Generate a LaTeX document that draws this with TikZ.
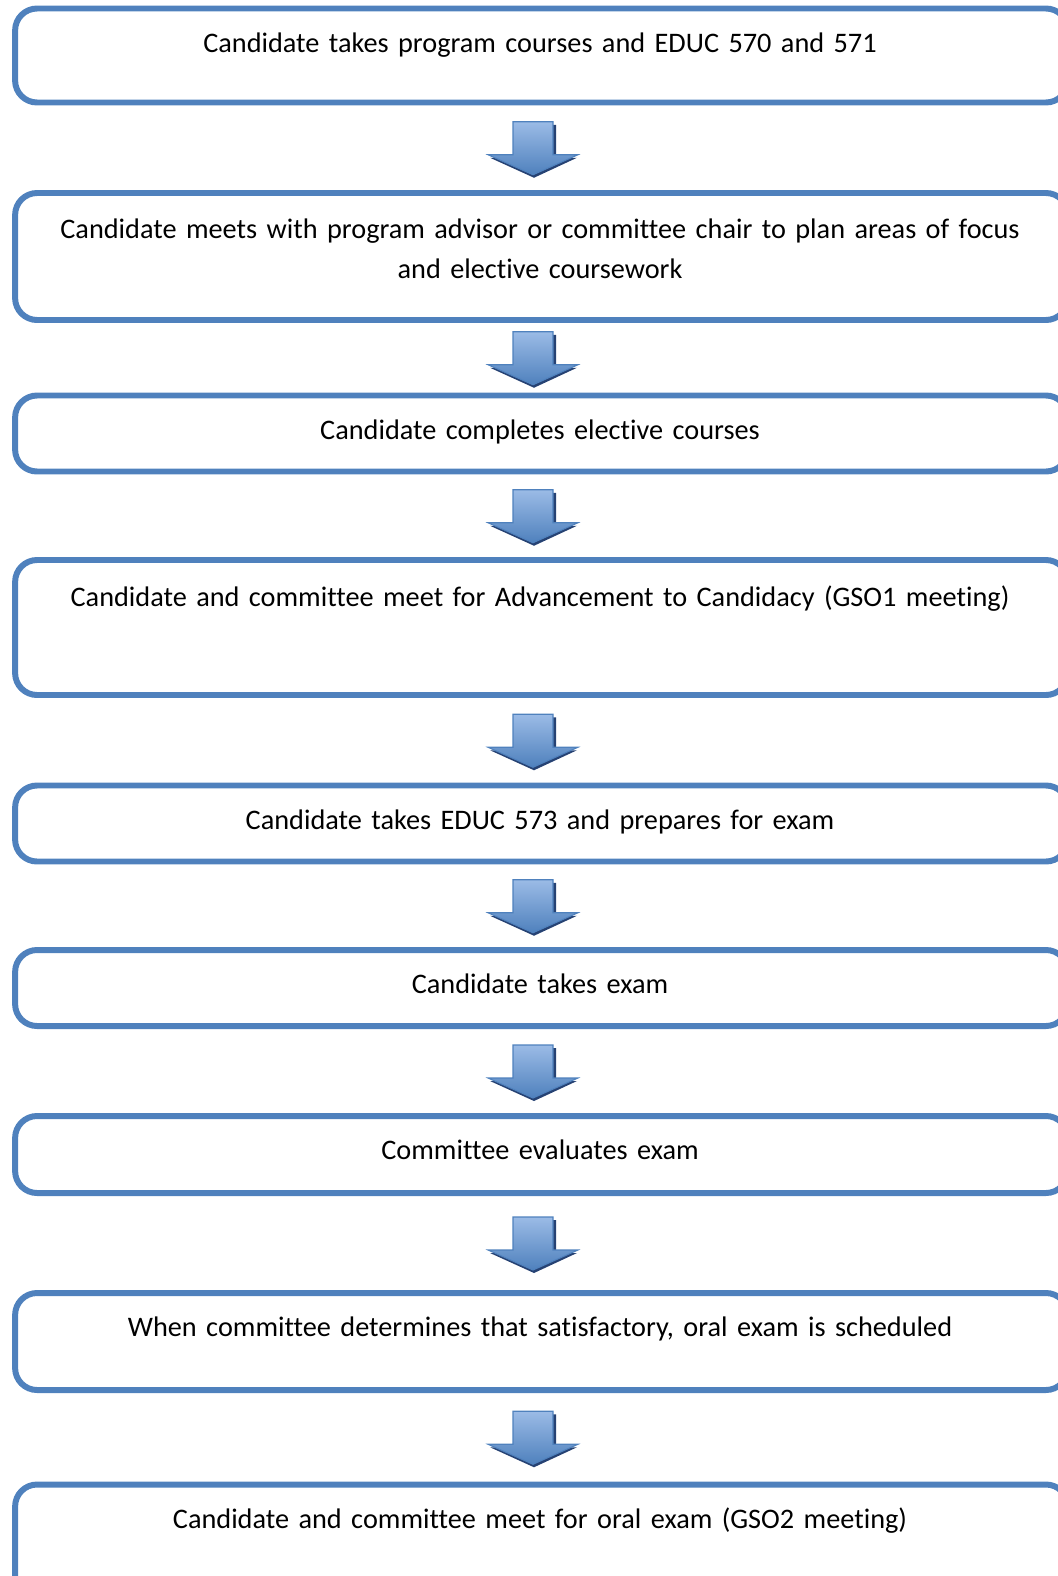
\documentclass[tikz,border=0pt]{standalone}
\usepackage{fontspec}
\setmainfont{Carlito}[Ligatures=NoCommon]
\usetikzlibrary{calc}
\definecolor{stepblue}{RGB}{79,129,189}
\definecolor{arrowlight}{RGB}{155,187,230}
\definecolor{arrowdark}{RGB}{38,66,115}

\begin{document}
\begin{tikzpicture}[x=0.02cm, y=-0.02cm,
  stepbox/.style={draw=stepblue, line width=3.4pt, rounded corners=12.5pt, minimum width=21.06cm, anchor=north, inner sep=0pt, outer sep=0pt},
  steptext/.style={anchor=base, text width=20.5cm, align=center, inner sep=0pt, font=\fontsize{16.1pt}{22.7pt}\selectfont}]
\newcommand\boxx{541.5}
\newcommand\stepArrow[2]{%
  \begin{scope}[shift={($(#1.south)!0.5!(#2.north)+(-8.5,0)$)}]
    \fill [arrowdark] (-18,-23) -- (23,-23) -- (23,10) -- (44,10) -- (1,30) -- (-43,10) -- (-18,10) -- cycle;
    \shade [top color=arrowlight, bottom color=stepblue, draw=stepblue, line width=0.6pt]
      (-20,-26) -- (20,-26) -- (20,7) -- (45,7) -- (0,27) -- (-45,7) -- (-20,7) -- cycle;
  \end{scope}}
\useasboundingbox (0,0) rectangle (1058,1576);

% steps
\node [stepbox, minimum height=94*0.02cm] (b1) at (\boxx, 8.5) {};
\node [steptext] (t1) at ($(b1.north)+(-1.5,43.5)$) {Candidate takes program courses and EDUC 570 and 571};

\node [stepbox, minimum height=127*0.02cm] (b2) at (\boxx, 193) {};
\node [steptext] (t2) at ($(b2.north)+(-1.5,45.5)$) {Candidate meets with program advisor or committee chair to plan areas of focus\\ and elective coursework};

\node [stepbox, minimum height=76*0.02cm] (b3) at (\boxx, 395.5) {};
\node [steptext] (t3) at ($(b3.north)+(-1.5,43.5)$) {Candidate completes elective courses};

\node [stepbox, minimum height=135*0.02cm] (b4) at (\boxx, 560) {};
\node [steptext] (t4) at ($(b4.north)+(-1.5,46)$) {Candidate and committee meet for Advancement to Candidacy (GSO1 meeting)};

\node [stepbox, minimum height=76*0.02cm] (b5) at (\boxx, 785.5) {};
\node [steptext] (t5) at ($(b5.north)+(-1.5,43.5)$) {Candidate takes EDUC 573 and prepares for exam};

\node [stepbox, minimum height=76*0.02cm] (b6) at (\boxx, 950) {};
\node [steptext] (t6) at ($(b6.north)+(-1.5,43.5)$) {Candidate takes exam};

\node [stepbox, minimum height=77*0.02cm] (b7) at (\boxx, 1116) {};
\node [steptext] (t7) at ($(b7.north)+(-1.5,43.5)$) {Committee evaluates exam};

\node [stepbox, minimum height=97*0.02cm] (b8) at (\boxx, 1293) {};
\node [steptext] (t8) at ($(b8.north)+(-1.5,43.5)$) {When committee determines that satisfactory, oral exam is scheduled};

\node [stepbox, minimum height=130*0.02cm] (b9) at (\boxx, 1484.5) {};
\node [steptext] (t9) at ($(b9.north)+(-1.5,43.5)$) {Candidate and committee meet for oral exam (GSO2 meeting)};

% arrows
\stepArrow{b1}{b2}
\stepArrow{b2}{b3}
\stepArrow{b3}{b4}
\stepArrow{b4}{b5}
\stepArrow{b5}{b6}
\stepArrow{b6}{b7}
\stepArrow{b7}{b8}
\stepArrow{b8}{b9}

\end{tikzpicture}
\end{document}
